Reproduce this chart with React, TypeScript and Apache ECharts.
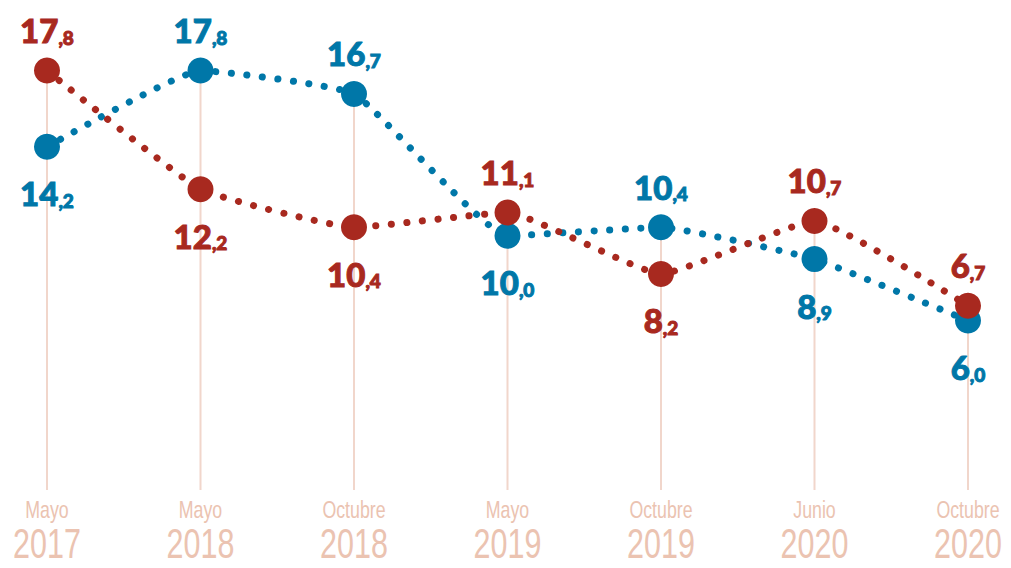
import React, { useEffect, useRef } from "react";
import * as echarts from "echarts";

const months = ["Mayo", "Mayo", "Octubre", "Mayo", "Octubre", "Junio", "Octubre"];
const years = ["2017", "2018", "2018", "2019", "2019", "2020", "2020"];
const redValues = [17.8, 12.2, 10.4, 11.1, 8.2, 10.7, 6.7];
const blueValues = [14.2, 17.8, 16.7, 10.0, 10.4, 8.9, 6.0];
const redPos = ["top", "bottom", "bottom", "top", "bottom", "top", "top"];
const bluePos = ["bottom", "top", "top", "bottom", "top", "bottom", "bottom"];

const RED = "#a8291f";
const BLUE = "#0077a8";
const AXIS = "#ebc3b1";
const STEM = "#f1d6cb";
const Y_MIN = -2;
const Y_MAX = 20;
const AXIS_FONT = "'Liberation Sans', Arial, sans-serif";

function fmt(v: number) {
  const s = v.toFixed(1).split(".");
  return `{a|${s[0]}}{b|,${s[1]}}`;
}

function labelRich(color: string) {
  const base = {
    color,
    fontFamily: "Lato, 'Open Sans', sans-serif",
    fontWeight: 900 as any,
    textBorderColor: color,
    textBorderWidth: 1,
    verticalAlign: "bottom" as const,
  };
  return {
    a: { ...base, fontSize: 33, lineHeight: 33 },
    b: { ...base, fontSize: 19, lineHeight: 21 },
  };
}

function lineSeries(name: string, values: number[], positions: string[], color: string, z: number) {
  return {
    name,
    type: "line",
    z,
    smooth: 0.12,
    symbol: "circle",
    symbolSize: 26,
    itemStyle: { color },
    lineStyle: { color, width: 7, type: [0.1, 15.5], cap: "round" },
    data: values.map((v, i) => ({
      value: v,
      label: {
        show: true,
        position: positions[i],
        distance: positions[i] === "top" ? 11 : 17,
        formatter: () => fmt(v),
        rich: labelRich(color),
      },
    })),
  };
}

export default function App() {
  const ref = useRef<HTMLDivElement>(null);
  useEffect(() => {
    if (!ref.current) return;
    const chart = echarts.init(ref.current, undefined, { renderer: "svg" });
    const stems = redValues.map((v, i) => [i, Math.max(v, blueValues[i])]);
    chart.setOption({
      animation: false,
      backgroundColor: "#fff",
      grid: { left: 47, right: 43, top: 24, bottom: 78, containLabel: false, outerBoundsMode: "none" },
      xAxis: {
        type: "category",
        boundaryGap: false,
        data: months.map((m, i) => `${m} ${years[i]}`),
        axisLine: { show: false },
        axisTick: { show: false },
        splitLine: { show: false },
        axisLabel: { show: false },
      },
      yAxis: {
        type: "value",
        min: Y_MIN,
        max: Y_MAX,
        show: false,
        splitLine: { show: false },
      },
      series: [
        {
          type: "custom",
          z: 1,
          silent: true,
          data: stems,
          renderItem: (params: any, api: any) => {
            const top = api.coord([api.value(0), api.value(1)]);
            const bottom = api.coord([api.value(0), Y_MIN]);
            return {
              type: "line",
              shape: { x1: top[0], y1: top[1], x2: bottom[0], y2: bottom[1] },
              style: { stroke: STEM, lineWidth: 2 },
            };
          },
        },
        lineSeries("blue", blueValues, bluePos, BLUE, 2),
        lineSeries("red", redValues, redPos, RED, 3),
      ],
    });

    // Category labels (condensed look via horizontal scaling), placed through the axis scale
    const bottomY = chart.convertToPixel({ yAxisIndex: 0 }, Y_MIN) as number;
    const texts: any[] = [];
    months.forEach((m, i) => {
      const x = chart.convertToPixel({ xAxisIndex: 0 }, i) as number;
      texts.push({
        type: "text",
        x,
        y: bottomY + 19,
        scaleX: 0.74,
        silent: true,
        style: {
          text: m,
          fill: AXIS,
          font: `normal 24px ${AXIS_FONT}`,
          lineHeight: 24,
          align: "center",
          verticalAlign: "middle",
        },
      });
      texts.push({
        type: "text",
        x,
        y: bottomY + 53,
        scaleX: 0.71,
        silent: true,
        style: {
          text: years[i],
          fill: AXIS,
          font: `normal 43px ${AXIS_FONT}`,
          lineHeight: 36,
          align: "center",
          verticalAlign: "middle",
        },
      });
    });
    chart.setOption({ graphic: texts });

    return () => chart.dispose();
  }, []);
  return (
    <div
      ref={ref}
      style={{ position: "fixed", left: 0, top: 0, width: 1011, height: 568, background: "#fff" }}
    />
  );
}
